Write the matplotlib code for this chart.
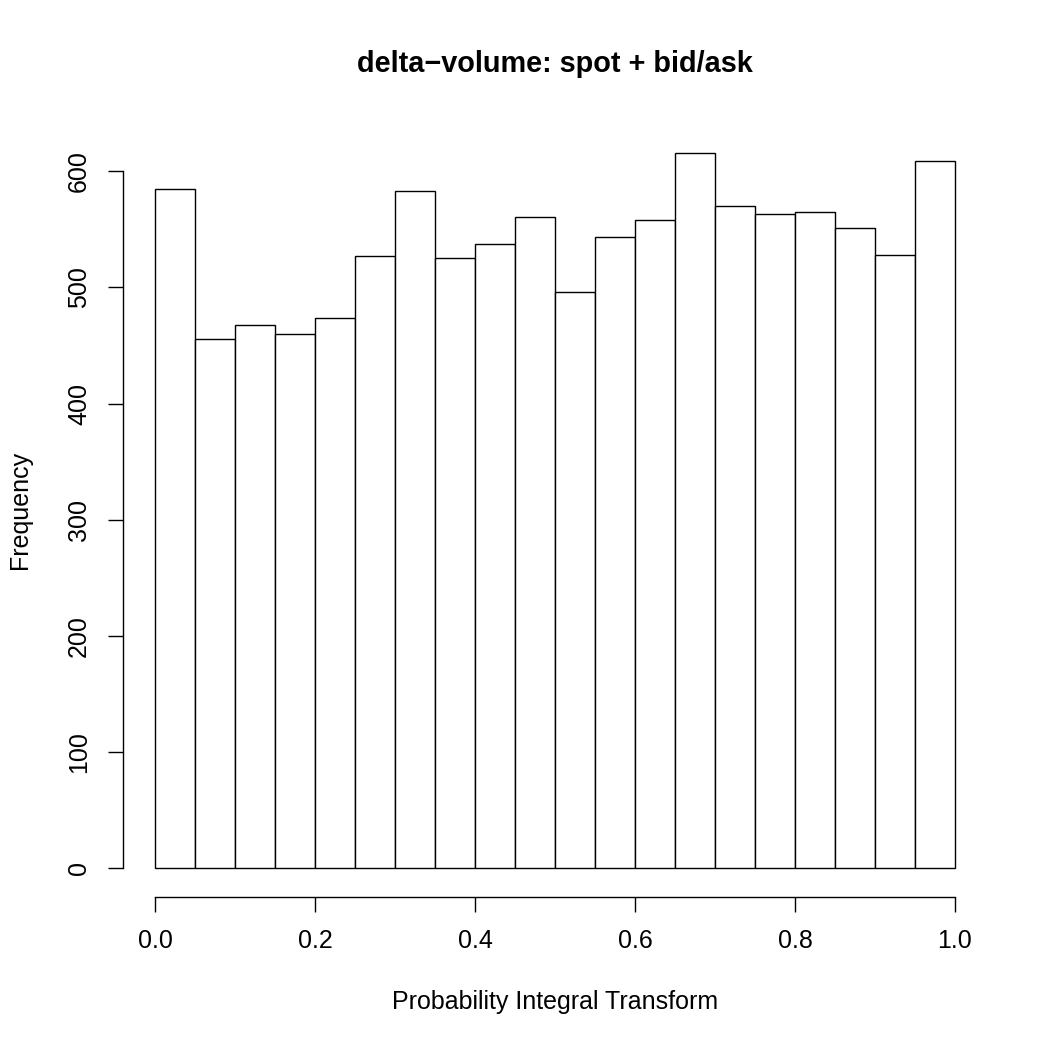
import numpy as np
import matplotlib
matplotlib.use("Agg")
import matplotlib.pyplot as plt

plt.rcParams["font.family"] = ["Liberation Sans", "DejaVu Sans"]

# histogram of PIT values, 20 bins on [0, 1]
bin_edges = np.linspace(0.0, 1.0, 21)
counts = [585, 456, 468, 460, 474, 527, 583, 525, 537, 561,
          496, 543, 558, 616, 570, 563, 565, 551, 528, 609]
x_ticks = [0.0, 0.2, 0.4, 0.6, 0.8, 1.0]
y_ticks = [0, 100, 200, 300, 400, 500, 600]

fig = plt.figure(figsize=(10.5, 10.5), dpi=100)
ax = fig.add_axes([123 / 1050, 1 - 897 / 1050, (987 - 123) / 1050, (897 - 124) / 1050])

ax.bar(bin_edges[:-1], counts, width=np.diff(bin_edges), align="edge",
       facecolor="white", edgecolor="black", linewidth=1.0)

ax.set_xlim(-0.04, 1.04)
ymax = max(counts)
ax.set_ylim(-0.04 * ymax, 1.04 * ymax)

for side in ["top", "right"]:
    ax.spines[side].set_visible(False)
ax.spines["left"].set_bounds(0, 600)
ax.spines["bottom"].set_bounds(0, 1)
ax.spines["left"].set_linewidth(1.0)
ax.spines["bottom"].set_linewidth(1.0)

ax.set_xticks(x_ticks)
ax.set_xticklabels([f"{v:.1f}" for v in x_ticks])
ax.set_yticks(y_ticks)
ax.set_yticklabels([str(v) for v in y_ticks], rotation=90, va="center")
ax.tick_params(axis="both", direction="out", length=11, width=1.0,
               labelsize=18, pad=12)

fig.text(555 / 1050, 1 - 64 / 1050, "delta\u2212volume: spot + bid/ask",
         ha="center", va="center", fontsize=20.8, fontweight="bold")
fig.text(555 / 1050, 1 - 1002 / 1050, "Probability Integral Transform",
         ha="center", va="center", fontsize=18)
fig.text(20 / 1050, 1 - 510 / 1050, "Frequency", rotation=90,
         ha="center", va="center", fontsize=18)

fig.savefig("out.png", dpi=100)
